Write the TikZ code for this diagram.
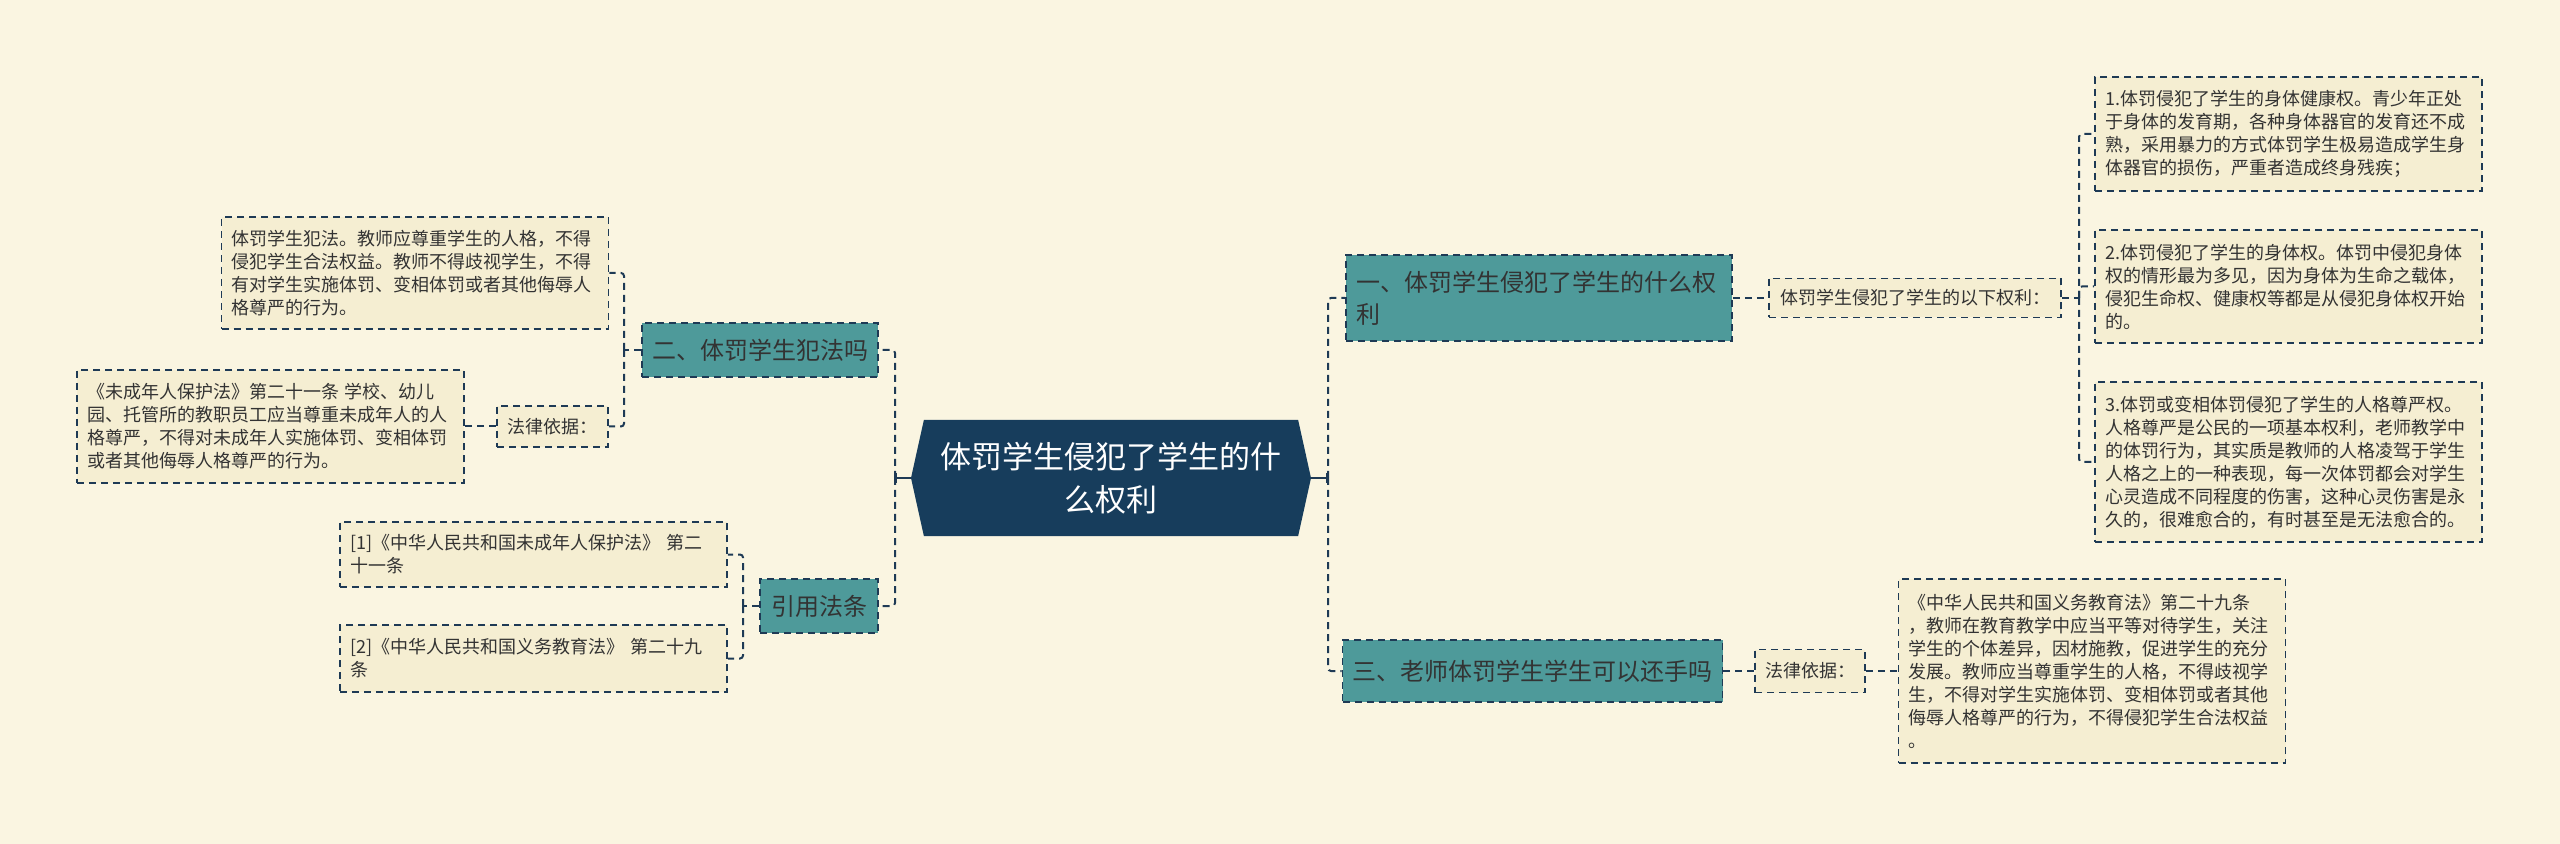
\documentclass[tikz,border=0pt]{standalone}
\usepackage{fontspec}
\setmainfont{Noto Sans CJK SC}
\usepackage{tikz}
\usetikzlibrary{arrows.meta,positioning,shapes.symbols}
\definecolor{bgcream}{HTML}{FAF5E1}
\definecolor{leafcream}{HTML}{F5EED2}
\definecolor{branchteal}{HTML}{4E9A9A}
\definecolor{rootnavy}{HTML}{173D5C}
\definecolor{linenavy}{HTML}{1E3A55}
\definecolor{inkgray}{HTML}{333333}

\begin{document}
\begin{tikzpicture}[
    x=0.5pt, y=-0.5pt,
    link/.style={draw=linenavy, line width=1pt, dash pattern=on 3.5pt off 2.5pt, rounded corners=1.5pt},
    stub/.style={draw=linenavy, line width=1.2pt, -{Bar[width=5pt,line width=1pt]}},
    leaf/.style={draw=linenavy, line width=0.8pt, dash pattern=on 3.5pt off 2.5pt, fill=leafcream, text=inkgray,
        font=\fontsize{9pt}{11.5pt}\selectfont, align=left, text width=183.5pt, inner xsep=5pt, inner ysep=3pt},
    tag/.style={draw=linenavy, line width=0.8pt, dash pattern=on 3.5pt off 2.5pt, fill=leafcream, text=inkgray,
        font=\fontsize{9pt}{11.5pt}\selectfont, inner xsep=4pt},
    branch/.style={draw=linenavy, line width=0.8pt, dash pattern=on 3.5pt off 2.5pt, fill=branchteal, text=inkgray,
        font=\fontsize{12pt}{16pt}\selectfont, inner xsep=5pt},
    hub/.style={shape=signal, signal to=west and east, signal pointer angle=155, fill=rootnavy, text=white,
        font=\fontsize{15.5pt}{21.5pt}\selectfont, align=center}
]
\fill[bgcream] (0,0) rectangle (2560,844);
\useasboundingbox (0,0) rectangle (2560,844);

% centre
\node[hub, minimum width=200pt, minimum height=58pt] (root) at (1111,478) {体罚学生侵犯了学生的什\\么权利};
\coordinate (trunkL) at (895,478);
\coordinate (trunkR) at (1328,478);

% right side
\node[branch, align=left, text width=183pt, minimum height=43pt] (b1) at (1539,298) {一、体罚学生侵犯了学生的什么权\\利};
\node[tag, minimum width=146pt, minimum height=19.5pt] (rights) at (1915,298) {体罚学生侵犯了学生的以下权利：};
\coordinate (jr) at (2079,298);
\node[leaf, minimum height=57pt] (right1) at (2288.5,134) {1.体罚侵犯了学生的身体健康权。青少年正处\\于身体的发育期，各种身体器官的发育还不成\\熟，采用暴力的方式体罚学生极易造成学生身\\体器官的损伤，严重者造成终身残疾；};
\node[leaf, minimum height=56.5pt] (right2) at (2288.5,286.5) {2.体罚侵犯了学生的身体权。体罚中侵犯身体\\权的情形最为多见，因为身体为生命之载体，\\侵犯生命权、健康权等都是从侵犯身体权开始\\的。};
\node[leaf, minimum height=80pt] (right3) at (2288.5,462) {3.体罚或变相体罚侵犯了学生的人格尊严权。\\人格尊严是公民的一项基本权利，老师教学中\\的体罚行为，其实质是教师的人格凌驾于学生\\人格之上的一种表现，每一次体罚都会对学生\\心灵造成不同程度的伤害，这种心灵伤害是永\\久的，很难愈合的，有时甚至是无法愈合的。};

\node[branch, minimum width=188.5pt, minimum height=31pt] (b3) at (1532.5,671) {三、老师体罚学生学生可以还手吗};
\node[tag, minimum width=55pt, minimum height=21.5pt] (basis3) at (1810,671) {法律依据：};
\node[leaf, minimum height=92pt] (law3) at (2092,671) {《中华人民共和国义务教育法》第二十九条\\，教师在教育教学中应当平等对待学生，关注\\学生的个体差异，因材施教，促进学生的充分\\发展。教师应当尊重学生的人格，不得歧视学\\生，不得对学生实施体罚、变相体罚或者其他\\侮辱人格尊严的行为，不得侵犯学生合法权益\\。};

% left side
\node[branch, minimum width=118pt, minimum height=27pt] (b2) at (760,350) {二、体罚学生犯法吗};
\coordinate (jl2) at (624,350);
\node[leaf, minimum height=56pt] (crime) at (415,273) {体罚学生犯法。教师应尊重学生的人格，不得\\侵犯学生合法权益。教师不得歧视学生，不得\\有对学生实施体罚、变相体罚或者其他侮辱人\\格尊严的行为。};
\node[tag, minimum width=55.5pt, minimum height=20.5pt] (basis2) at (552.5,426.5) {法律依据：};
\node[leaf, minimum height=56.5pt] (minor) at (270.5,426.5) {《未成年人保护法》第二十一条 学校、幼儿\\园、托管所的教职员工应当尊重未成年人的人\\格尊严，不得对未成年人实施体罚、变相体罚\\或者其他侮辱人格尊严的行为。};

\node[branch, minimum width=59pt, minimum height=27pt] (b4) at (819,606) {引用法条};
\coordinate (jl4) at (743,606);
\node[leaf, minimum height=32.5pt] (ref1) at (533.5,554.5) {[1]《中华人民共和国未成年人保护法》 第二\\十一条};
\node[leaf, minimum height=33.5pt] (ref2) at (533.5,658.5) {[2]《中华人民共和国义务教育法》 第二十九\\条};

% connectors
\draw[stub] (root.east) -- (trunkR);
\draw[link] (trunkR) |- (b1.west);
\draw[link] (trunkR) |- (b3.west);
\draw[link] (b1.east) -- (rights.west);
\draw[link] (rights.east) -- (jr);
\foreach \leafname in {right1,right2,right3}
    \draw[link] (jr) |- (\leafname.west);
\draw[link] (b3.east) -- (basis3.west);
\draw[link] (basis3.east) -- (law3.west);

\draw[stub] (root.west) -- (trunkL);
\draw[link] (trunkL) |- (b2.east);
\draw[link] (trunkL) |- (b4.east);
\draw[link] (b2.west) -- (jl2);
\draw[link] (jl2) |- (crime.east);
\draw[link] (jl2) |- (basis2.east);
\draw[link] (basis2.west) -- (minor.east);
\draw[link] (b4.west) -- (jl4);
\draw[link] (jl4) |- (ref1.east);
\draw[link] (jl4) |- (ref2.east);
\end{tikzpicture}
\end{document}
